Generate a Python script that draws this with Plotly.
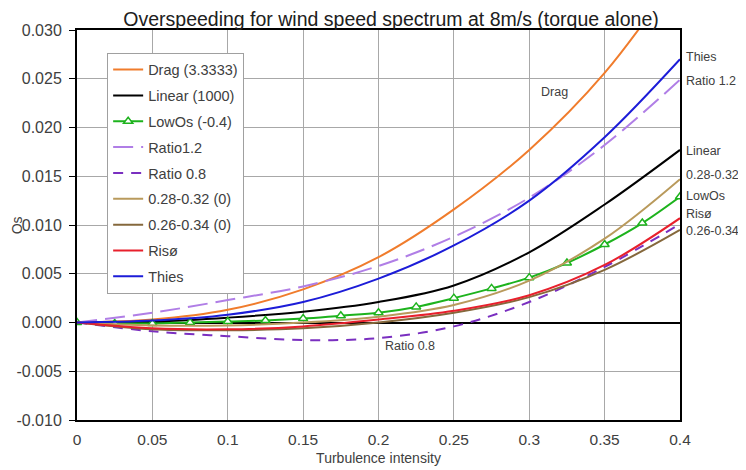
import plotly.graph_objects as go

# ---- data ----
ti = [0.0, 0.05, 0.10, 0.15, 0.20, 0.25, 0.30, 0.35, 0.40]
ti_fine = [0.0, 0.025, 0.05, 0.075, 0.10, 0.125, 0.15, 0.175, 0.20, 0.225,
           0.25, 0.275, 0.30, 0.325, 0.35, 0.375, 0.40]

drag = [0, 0.0003, 0.0013, 0.0034, 0.0067, 0.0116, 0.0177, 0.0256, 0.0360]
linear = [0, 0.0001, 0.0005, 0.0011, 0.0021, 0.0038, 0.0072, 0.0121, 0.0177]
lowos = [0, -0.0001, -0.0001, 0.0000, 0.0001, 0.0002, 0.0004, 0.0007, 0.0010,
         0.0016, 0.0025, 0.0035, 0.0046, 0.0061, 0.0080, 0.0102, 0.0129]
ratio12 = [0, 0.0010, 0.0023, 0.0037, 0.0058, 0.0088, 0.0128, 0.0182, 0.0249]
ratio08 = [0, -0.0009, -0.0014, -0.0018, -0.0016, -0.0004, 0.0021, 0.0057, 0.0101]
r2832 = [0, -0.0003, -0.0003, 0.0000, 0.0006, 0.0018, 0.0043, 0.0086, 0.0147]
r2634 = [0, -0.0007, -0.0008, -0.0006, 0.0000, 0.0010, 0.0026, 0.0054, 0.0095]
riso = [0, -0.0006, -0.0007, -0.0004, 0.0003, 0.0012, 0.0028, 0.0059, 0.0107]
thies = [0, 0.0002, 0.0008, 0.0021, 0.0045, 0.0079, 0.0125, 0.0190, 0.0270]

x_ticks = [0, 0.05, 0.1, 0.15, 0.2, 0.25, 0.3, 0.35, 0.4]
x_tick_text = ["0", "0.05", "0.1", "0.15", "0.2", "0.25", "0.3", "0.35", "0.4"]
y_ticks = [-0.010, -0.005, 0.0, 0.005, 0.010, 0.015, 0.020, 0.025, 0.030]
y_tick_text = ["-0.010", "-0.005", "0.000", "0.005", "0.010", "0.015",
               "0.020", "0.025", "0.030"]

end_labels = ["Thies", "Ratio 1.2", "Linear", "0.28-0.32", "LowOs", "Risø", "0.26-0.34"]
end_label_y = [0.0272, 0.0248, 0.0176, 0.0151, 0.0130, 0.0111, 0.0094]

FONT = "Liberation Sans, Arial, sans-serif"
TXT = "#404040"

fig = go.Figure()

def add_line(x, y, name, color, dash="solid", width=2, **kw):
    fig.add_trace(go.Scatter(
        x=x, y=y, name=name, mode=kw.pop("mode", "lines"),
        line=dict(color=color, width=width, dash=dash, shape="spline", smoothing=1.0),
        legendgroup=name, **kw))

add_line(ti, drag, "Drag (3.3333)", "#F07C2C")
add_line(ti, linear, "Linear (1000)", "#000000")
add_line(ti_fine, lowos, "LowOs (-0.4)", "#1DB31D", mode="lines+markers",
         marker=dict(symbol="triangle-up", size=8, color="white",
                     line=dict(color="#1DB31D", width=1.5)))
add_line(ti, ratio12, "Ratio1.2", "#B07EE6", dash="20px,8px")
add_line(ti, ratio08, "Ratio 0.8", "#7A2FC0", dash="10px,8px")
add_line(ti, r2832, "0.28-0.32 (0)", "#B99A5C")
add_line(ti, r2634, "0.26-0.34 (0)", "#85683C")
add_line(ti, riso, "Risø", "#E8202C")
add_line(ti, thies, "Thies", "#1C1CD8")

for lab, yv in zip(end_labels, end_label_y):
    fig.add_annotation(x=0.4, y=yv, text=lab, xref="x", yref="y",
                       xanchor="left", yanchor="middle", xshift=4, showarrow=False,
                       font=dict(family=FONT, size=12.5, color=TXT))

fig.add_annotation(x=0.317, y=0.0236, text="Drag", showarrow=False,
                   font=dict(family=FONT, size=12.5, color=TXT))
fig.add_annotation(x=0.221, y=-0.0024, text="Ratio 0.8", showarrow=False,
                   font=dict(family=FONT, size=12.5, color=TXT))

# y-axis title placed explicitly, left of the tick labels
fig.add_annotation(x=-0.099, y=0.5, xref="paper", yref="paper", text="Os",
                   textangle=-90, showarrow=False, xanchor="center", yanchor="middle",
                   font=dict(family=FONT, size=14, color=TXT))

fig.update_layout(
    width=738, height=462,
    margin=dict(l=69, r=66, t=22, b=50, autoexpand=False),
    paper_bgcolor="white", plot_bgcolor="white",
    font=dict(family=FONT, size=15, color=TXT),
    title=dict(text="Overspeeding for wind speed spectrum at 8m/s (torque alone)",
               x=0.519, xanchor="center", y=0.976, yanchor="middle",
               font=dict(family=FONT, size=19.5, color="#202020")),
    legend=dict(x=0.05, y=0.942, xanchor="left", yanchor="top",
                bgcolor="white", bordercolor="#A0A0A0", borderwidth=1,
                font=dict(family=FONT, size=14.5, color=TXT),
                traceorder="grouped", tracegroupgap=4),
    showlegend=True,
)

fig.update_xaxes(range=[0, 0.4], tickvals=x_ticks, ticktext=x_tick_text,
                 automargin=False,
                 showgrid=True, gridcolor="#A8A8A8", gridwidth=1,
                 showline=True, linecolor="#000000", linewidth=2, mirror=True,
                 zeroline=False, ticks="outside", ticklen=4, tickcolor="rgba(0,0,0,0)",
                 title=dict(text="Turbulence intensity", standoff=7,
                            font=dict(family=FONT, size=14, color=TXT)),
                 tickfont=dict(family=FONT, size=15.5, color=TXT))
fig.update_yaxes(range=[-0.010, 0.030], tickvals=y_ticks, ticktext=y_tick_text,
                 automargin=False,
                 showgrid=True, gridcolor="#A8A8A8", gridwidth=1,
                 showline=True, linecolor="#000000", linewidth=2, mirror=True,
                 zeroline=True, zerolinecolor="#000000", zerolinewidth=2,
                 ticks="outside", ticklen=6, tickcolor="#000000",
                 ticklabelstandoff=4,
                 tickfont=dict(family=FONT, size=16, color=TXT))

fig.write_html("out.html")
